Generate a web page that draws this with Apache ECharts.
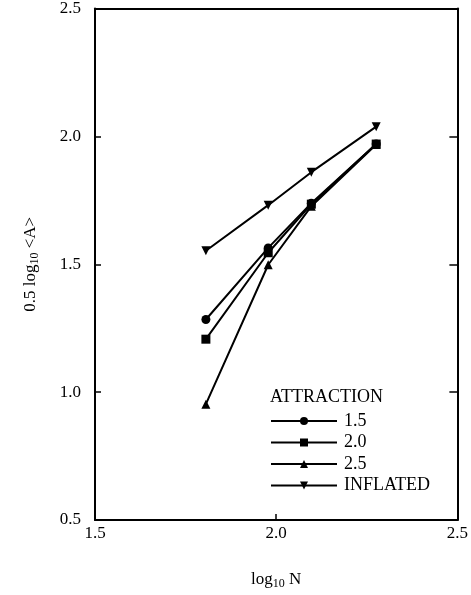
<!DOCTYPE html>
<html>
<head>
<meta charset="utf-8">
<script src="https://cdn.jsdelivr.net/npm/echarts@6/dist/echarts.min.js"></script>
<style>
html, body { margin: 0; padding: 0; background: #fff; }
#chart { width: 471px; height: 595px; }
</style>
</head>
<body>
<div id="chart"></div>
<script>
// values
var logN = [1.806, 1.978, 2.097, 2.276];
var attr15 = [1.284, 1.564, 1.739, 1.970];
var attr20 = [1.207, 1.545, 1.735, 1.970];
var attr25 = [0.953, 1.498, 1.727, 1.968];
var inflated = [1.553, 1.731, 1.860, 2.038];

var seriesNames = ['1.5', '2.0', '2.5', 'INFLATED'];
var seriesValues = [attr15, attr20, attr25, inflated];
var seriesSymbols = ['circle', 'rect', 'triangle', 'triangle'];
var seriesRotate = [0, 0, 0, 180];
var seriesSize = [9, 9, 9, 9];

var font = "'Liberation Serif', 'Times New Roman', serif";

var pairs = function(xs, ys){
	var out = [];
	for (var i = 0; i < xs.length; i++) {
		out.push([xs[i], ys[i]]);
	}
	return out;
};

var chart = echarts.init(document.getElementById('chart'));

var series = [];
for (var i = 0; i < seriesNames.length; i++) {
	series.push({
		name: seriesNames[i],
		type: 'line',
		data: pairs(logN, seriesValues[i]),
		symbol: seriesSymbols[i],
		symbolSize: seriesSize[i],
		symbolRotate: seriesRotate[i],
		lineStyle: { color: '#000', width: 2 },
		itemStyle: { color: '#000' },
		animation: false
	});
}

var tickLabel = function(v){ return v.toFixed(1); };

var option = {
	backgroundColor: '#fff',
	grid: { left: 95, right: 12, top: 7, bottom: 73 },
	xAxis: [{
		type: 'value',
		min: 1.5, max: 2.5, interval: 0.5,
		name: '{t|log}{s|10}{t| N}',
		nameLocation: 'middle',
		nameGap: 50,
		nameTextStyle: {
			rich: {
				t: { fontFamily: font, fontSize: 17, color: '#000' },
				s: { fontFamily: font, fontSize: 12, color: '#000', padding: [8, 0, 0, 0] }
			}
		},
		axisLine: { lineStyle: { color: '#000', width: 2 } },
		axisTick: { inside: true, length: 6, lineStyle: { color: '#000', width: 1.5 } },
		axisLabel: { formatter: tickLabel, fontFamily: font, fontSize: 17, color: '#000', margin: 5 },
		splitLine: { show: false }
	}, {
		type: 'value', position: 'top',
		min: 1.5, max: 2.5, interval: 0.5,
		axisLine: { lineStyle: { color: '#000', width: 2 } },
		axisTick: { show: false },
		axisLabel: { show: false },
		splitLine: { show: false }
	}],
	yAxis: [{
		type: 'value',
		min: 0.5, max: 2.5, interval: 0.5,
		name: '{t|0.5 log}{s|10}{t| <A>}',
		nameLocation: 'middle',
		nameGap: 54,
		nameRotate: 90,
		nameTextStyle: {
			rich: {
				t: { fontFamily: font, fontSize: 17, color: '#000' },
				s: { fontFamily: font, fontSize: 12, color: '#000', padding: [8, 0, 0, 0] }
			}
		},
		axisLine: { lineStyle: { color: '#000', width: 2 } },
		axisTick: { inside: true, length: 6, lineStyle: { color: '#000', width: 1.5 } },
		axisLabel: { formatter: tickLabel, fontFamily: font, fontSize: 17, color: '#000', margin: 14 },
		splitLine: { show: false }
	}, {
		type: 'value', position: 'right',
		min: 0.5, max: 2.5, interval: 0.5,
		axisLine: { lineStyle: { color: '#000', width: 2 } },
		axisTick: { inside: true, length: 8, lineStyle: { color: '#000', width: 1.5 } },
		axisLabel: { show: false },
		splitLine: { show: false }
	}],
	legend: {
		orient: 'vertical',
		left: 270, top: 412,
		padding: 0,
		itemWidth: 66, itemHeight: 10, itemGap: 3.5,
		data: seriesNames,
		textStyle: { fontFamily: font, fontSize: 18, color: '#000', padding: [0, 0, 0, 2] }
	},
	graphic: [{
		type: 'text',
		left: 270, top: 388,
		style: { text: 'ATTRACTION', font: '18px ' + font, fill: '#000' }
	}],
	series: series
};
chart.setOption(option);
</script>
</body>
</html>
